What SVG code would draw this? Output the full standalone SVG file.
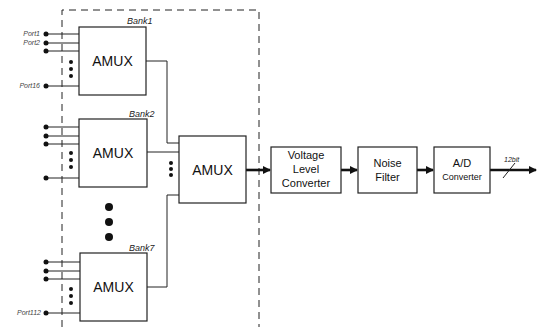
<svg xmlns="http://www.w3.org/2000/svg" width="538" height="327" viewBox="0 0 538 327">
<style>
.box{fill:#fff;stroke:#222;stroke-width:1.2}
.ln{fill:none;stroke:#222;stroke-width:1}
.thick{fill:none;stroke:#111;stroke-width:2.6}
.dash{fill:none;stroke:#222;stroke-width:1;stroke-dasharray:7,5}
.amux{font-family:"Liberation Sans",Arial,sans-serif;font-size:14px;fill:#111;text-anchor:middle}
.lbl{font-family:"Liberation Sans",Arial,sans-serif;font-size:11px;fill:#111;text-anchor:middle}
.bank{font-family:"Liberation Sans",Arial,sans-serif;font-size:9px;font-style:italic;fill:#222}
.port{font-family:"Liberation Sans",Arial,sans-serif;font-size:7px;font-style:italic;fill:#444;text-anchor:end}
.dot{fill:#111}
</style>
<defs>
<marker id="ah" markerWidth="8" markerHeight="8" refX="7" refY="4" orient="auto" markerUnits="userSpaceOnUse">
<path d="M0,0 L8,4 L0,8 z" fill="#111"/>
</marker>
</defs>
<g id="bankRegion">
<path class="dash" d="M62,327 L62,10 L259,10 L259,327"/>
</g>
<g id="connectors">
<!-- Bank1 inputs -->
<line class="ln" x1="46" y1="34" x2="79" y2="34"/>
<line class="ln" x1="46" y1="43" x2="79" y2="43"/>
<line class="ln" x1="46" y1="51" x2="79" y2="51"/>
<line class="ln" x1="46" y1="86" x2="79" y2="86"/>
<!-- Bank2 inputs -->
<line class="ln" x1="46" y1="127" x2="79" y2="127"/>
<line class="ln" x1="46" y1="136" x2="79" y2="136"/>
<line class="ln" x1="46" y1="144" x2="79" y2="144"/>
<line class="ln" x1="46" y1="178" x2="79" y2="178"/>
<!-- Bank7 inputs -->
<line class="ln" x1="46" y1="262" x2="80" y2="262"/>
<line class="ln" x1="46" y1="271" x2="80" y2="271"/>
<line class="ln" x1="46" y1="279" x2="80" y2="279"/>
<line class="ln" x1="46" y1="313" x2="80" y2="313"/>
<!-- bank outputs to center AMUX -->
<polyline class="ln" points="146,61 167,61 167,143 179,143"/>
<line class="ln" x1="147" y1="152" x2="179" y2="152"/>
<polyline class="ln" points="147,287 167,287 167,195 179,195"/>
<!-- main chain -->
<line class="thick" x1="246" y1="170" x2="270" y2="170" marker-end="url(#ah)"/>
<line class="thick" x1="341" y1="170" x2="357" y2="170" marker-end="url(#ah)"/>
<line class="thick" x1="417" y1="170" x2="433" y2="170" marker-end="url(#ah)"/>
<line class="thick" x1="490" y1="170" x2="536" y2="170" marker-end="url(#ah)"/>
<line class="ln" x1="503" y1="178" x2="515" y2="163"/>
</g>
<g id="portDots">
<circle class="dot" cx="46" cy="34" r="2.5"/>
<circle class="dot" cx="46" cy="43" r="2.5"/>
<circle class="dot" cx="46" cy="51" r="2.5"/>
<circle class="dot" cx="46" cy="86" r="2.5"/>
<circle class="dot" cx="46" cy="127" r="2.5"/>
<circle class="dot" cx="46" cy="136" r="2.5"/>
<circle class="dot" cx="46" cy="144" r="2.5"/>
<circle class="dot" cx="46" cy="178" r="2.5"/>
<circle class="dot" cx="46" cy="262" r="2.5"/>
<circle class="dot" cx="46" cy="271" r="2.5"/>
<circle class="dot" cx="46" cy="279" r="2.5"/>
<circle class="dot" cx="46" cy="313" r="2.5"/>
<!-- ellipsis dots -->
<circle class="dot" cx="71" cy="62" r="2"/>
<circle class="dot" cx="71" cy="69" r="2"/>
<circle class="dot" cx="71" cy="76" r="2"/>
<circle class="dot" cx="71" cy="153" r="2"/>
<circle class="dot" cx="71" cy="160" r="2"/>
<circle class="dot" cx="71" cy="167" r="2"/>
<circle class="dot" cx="71" cy="289" r="2"/>
<circle class="dot" cx="71" cy="296" r="2"/>
<circle class="dot" cx="71" cy="303" r="2"/>
<circle class="dot" cx="171" cy="163" r="2"/>
<circle class="dot" cx="171" cy="169" r="2"/>
<circle class="dot" cx="171" cy="175" r="2"/>
<circle class="dot" cx="109" cy="207" r="4"/>
<circle class="dot" cx="109" cy="222" r="4"/>
<circle class="dot" cx="109" cy="237" r="4"/>
</g>
<g id="portLabels">
<text class="port" x="40" y="36">Port1</text>
<text class="port" x="40" y="45">Port2</text>
<text class="port" x="40" y="88">Port16</text>
<text class="port" x="41" y="315">Port112</text>
</g>
<g id="bank1">
<rect class="box" x="79" y="27" width="67" height="68"/>
<text class="amux" x="112.5" y="66">AMUX</text>
<text class="bank" x="127" y="24">Bank1</text>
</g>
<g id="bank2">
<rect class="box" x="79" y="119" width="68" height="68"/>
<text class="amux" x="113" y="158">AMUX</text>
<text class="bank" x="129" y="117">Bank2</text>
</g>
<g id="bank7">
<rect class="box" x="80" y="253" width="67" height="68"/>
<text class="amux" x="113.5" y="292">AMUX</text>
<text class="bank" x="129" y="251">Bank7</text>
</g>
<g id="centerAmux">
<rect class="box" x="179" y="136" width="67" height="67"/>
<text class="amux" x="212.5" y="175">AMUX</text>
</g>
<g id="voltage">
<rect class="box" x="271" y="147" width="70" height="46"/>
<text class="lbl" x="306" y="159">Voltage</text>
<text class="lbl" x="306" y="173">Level</text>
<text class="lbl" x="306" y="187">Converter</text>
</g>
<g id="noise">
<rect class="box" x="358" y="147" width="59" height="46"/>
<text class="lbl" x="387.5" y="167">Noise</text>
<text class="lbl" x="387.5" y="181">Filter</text>
</g>
<g id="adc">
<rect class="box" x="434" y="147" width="56" height="46"/>
<text class="lbl" x="462" y="167">A/D</text>
<text class="lbl" x="462" y="180" style="font-size:9px">Converter</text>
</g>
<text class="bank" x="504" y="162" style="font-size:7px">12bit</text>
</svg>
